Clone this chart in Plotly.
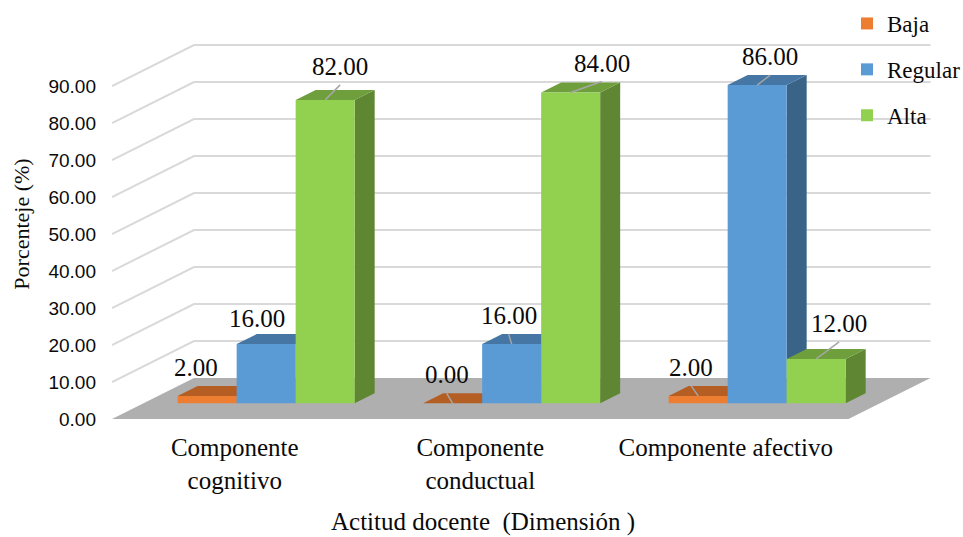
import plotly.graph_objects as go

# Chart data
categories = ["Componente<br>cognitivo", "Componente<br>conductual", "Componente afectivo"]
series_names = ["Baja", "Regular", "Alta"]
baja = [2.0, 0.0, 2.0]
regular = [16.0, 16.0, 86.0]
alta = [82.0, 84.0, 12.0]
y_ticks = [0, 10, 20, 30, 40, 50, 60, 70, 80, 90]

# Colours for each series: front, top and side faces
front_colors = ["#ED7D31", "#5B9BD5", "#92D050"]
top_colors = ["#B55E24", "#4676A3", "#6F9E3D"]
side_colors = ["#B55E24", "#3A6487", "#5F8632"]

W, H = 963, 537
M_L, M_R, M_T, M_B = 112, 0, 29, 118
PX_PER_CAT = 245.5
PX_PER_UNIT = 3.7

# Oblique projection: a full unit of depth moves a point right and up
DEPTH_X = 82 / PX_PER_CAT
DEPTH_Y = 41 / PX_PER_UNIT
D_FRONT, D_BACK = 0.383, 0.627
BAR_W = 59 / PX_PER_CAT
VALUES = [baja, regular, alta]


def project(x, v, d):
    return x + d * DEPTH_X, v + d * DEPTH_Y


def poly(points):
    pts = [project(*p) for p in points]
    return "M" + "L".join(f"{a:.4f},{b:.4f}" for a, b in pts) + "Z"


def face(points, color):
    return dict(type="path", path=poly(points), xref="x", yref="y", layer="below",
                fillcolor=color, line=dict(width=0))


def bar_left(group, serie):
    return group + (serie - 1.5) * BAR_W


shapes = [face([(-0.5, 0, 0), (2.5, 0, 0), (2.5, 0, 1), (-0.5, 0, 1)], "#AFAFAF")]

# Wall grid: a diagonal on the side wall, then a horizontal along the back wall
for t in y_ticks[1:]:
    a, b = project(-0.5, t, 0)
    c, e = project(-0.5, t, 1)
    f, g = project(2.5, t, 1)
    shapes.append(dict(type="path", path=f"M{a},{b}L{c},{e}L{f},{g}", xref="x", yref="y",
                       layer="below", line=dict(color="#D9D9D9", width=2)))

# Top and side faces, painted from left to right
for g_i in range(len(categories)):
    for s_i, vals in enumerate(VALUES):
        v = vals[g_i]
        x0 = bar_left(g_i, s_i)
        x1 = x0 + BAR_W
        shapes.append(face([(x1, 0, D_FRONT), (x1, 0, D_BACK), (x1, v, D_BACK), (x1, v, D_FRONT)],
                           side_colors[s_i]))
        shapes.append(face([(x0, v, D_FRONT), (x1, v, D_FRONT), (x1, v, D_BACK), (x0, v, D_BACK)],
                           top_colors[s_i]))

fig = go.Figure()

# Front faces carry the values and the legend
for s_i, vals in enumerate(VALUES):
    fig.add_trace(go.Bar(
        x=[project(bar_left(g, s_i) + BAR_W / 2, 0, D_FRONT)[0] for g in range(len(categories))],
        y=vals,
        base=[D_FRONT * DEPTH_Y] * len(vals),
        width=BAR_W,
        name=series_names[s_i],
        legendgroup=series_names[s_i],
        marker=dict(color=front_colors[s_i], line=dict(width=0)),
        hoverinfo="y+name",
    ))

# Label placement in pixels relative to the top of each bar: (series, group, dx, dy, leader)
label_layout = [
    (0, 0, -11, -10, False), (1, 0, -9, -7, False), (2, 0, 15, -15, True),
    (0, 1, -6, -10, True), (1, 1, -3, -10, True), (2, 1, 31, -11, True),
    (0, 2, -7, -10, True), (1, 2, 13, -10, True), (2, 2, 23, -17, True),
]
annotations = []
for s_i, g_i, dx, dy, leader in label_layout:
    v = VALUES[s_i][g_i]
    ax_x, ax_y = project(bar_left(g_i, s_i) + BAR_W / 2, v, D_FRONT)
    annotations.append(dict(
        x=ax_x, y=ax_y, xref="x", yref="y", text=f"{v:.2f}",
        showarrow=True, arrowhead=0, arrowwidth=1.5,
        arrowcolor="#A6A6A6" if leader else "rgba(0,0,0,0)",
        ax=dx, ay=dy, xanchor="center", yanchor="bottom", borderpad=4,
        font=dict(family="Liberation Serif", size=25, color="#0A0A0A"),
    ))

annotations.append(dict(
    x=(483 - M_L) / (W - M_L - M_R), y=-103 / (H - M_T - M_B), xref="paper", yref="paper",
    text="Actitud docente  (Dimensión )", showarrow=False, xanchor="center", yanchor="middle",
    font=dict(family="Liberation Serif", size=25, color="#0A0A0A"),
))

fig.update_layout(
    width=W, height=H,
    margin=dict(l=M_L, r=M_R, t=M_T, b=M_B, autoexpand=False),
    paper_bgcolor="white", plot_bgcolor="white",
    barmode="overlay",
    shapes=shapes,
    annotations=annotations,
    legend=dict(
        x=(847 - M_L) / (W - M_L - M_R), xanchor="left",
        y=(H - M_B - 2) / (H - M_T - M_B), yanchor="top",
        bgcolor="rgba(0,0,0,0)", tracegroupgap=13,
        font=dict(family="Liberation Serif", size=23, color="#0A0A0A"),
    ),
    xaxis=dict(
        range=[-0.5, -0.5 + (W - M_L - M_R) / PX_PER_CAT],
        tickvals=list(range(len(categories))), ticktext=categories,
        showgrid=False, zeroline=False, showline=False, ticks="",
        ticklabelstandoff=11,
        tickfont=dict(family="Liberation Serif", size=25, color="#0A0A0A"),
    ),
    yaxis=dict(
        range=[0, (H - M_T - M_B) / PX_PER_UNIT],
        tickvals=y_ticks, ticktext=[f"{t:.2f}" for t in y_ticks],
        showgrid=False, zeroline=False, showline=False, ticks="",
        ticklabelstandoff=15,
        tickfont=dict(family="Liberation Sans", size=19, color="#0A0A0A"),
        title=dict(text="Porcenteje (%)", standoff=12,
                   font=dict(family="Liberation Serif", size=22, color="#0A0A0A")),
    ),
)

fig.write_html("out.html")
